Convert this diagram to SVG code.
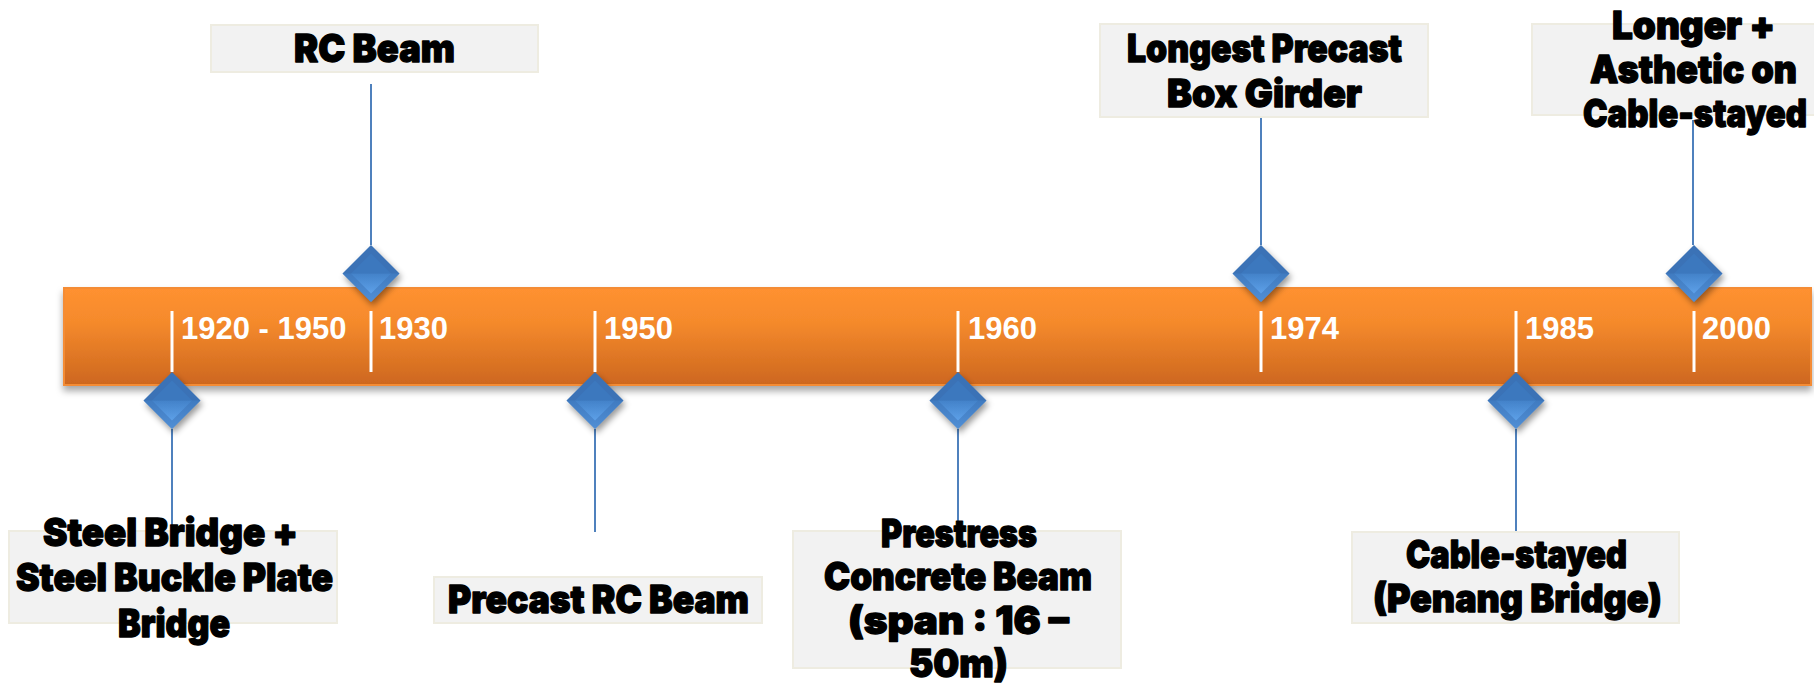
<svg xmlns="http://www.w3.org/2000/svg" width="1814" height="687" viewBox="0 0 1814 687">
  <defs>
    <linearGradient id="barFill" x1="0" y1="0" x2="0" y2="1">
      <stop offset="0" stop-color="#FF9130"/>
      <stop offset="0.35" stop-color="#F58A2C"/>
      <stop offset="1" stop-color="#CD671F"/>
    </linearGradient>
    <linearGradient id="facetLow" x1="0" y1="0" x2="0" y2="1">
      <stop offset="0" stop-color="#4382C9"/>
      <stop offset="1" stop-color="#62A6EE"/>
    </linearGradient>
    <filter id="barShadow" x="-5%" y="-20%" width="110%" height="150%">
      <feDropShadow dx="0" dy="5" stdDeviation="3.5" flood-color="#000" flood-opacity="0.35"/>
    </filter>
    <filter id="gemShadow" x="-40%" y="-40%" width="180%" height="180%">
      <feDropShadow dx="2" dy="4" stdDeviation="3" flood-color="#000" flood-opacity="0.4"/>
    </filter>
    <!-- bevelled diamond marker, centred on 0,0 -->
    <g id="gem">
      <polygon points="0,-28.5 28.5,0 0,28.5 -28.5,0" fill="#3A72B6" filter="url(#gemShadow)"/>
      <polygon points="-20,0 20,0 0,20" fill="url(#facetLow)"/>
      <polygon points="-20,0 0,-20 20,0" fill="#3C78BE"/>
      <polygon points="-20,0 20,0 28.5,0 0,28.5 -28.5,0" fill="url(#facetLow)" opacity="0.55"/>
    </g>
  </defs>
  <style>
    .box { fill: #F2F2F2; stroke: #EEECE1; stroke-width: 2; }
    .lbl { font-family: Inter, "DejaVu Sans", sans-serif; font-weight: 900; font-size: 38px; fill: #000; stroke: #000; stroke-width: 1.3; stroke-linejoin: round; }
    .yr { font-family: "Liberation Sans", Arial, sans-serif; font-weight: bold; font-size: 31px; fill: #FFFFFF; }
    .tick { stroke: #FFFFFF; stroke-width: 3; }
    .link { stroke: #4F81BD; stroke-width: 2; fill: none; }
  </style>

  <rect width="1814" height="687" fill="#FFFFFF"/>

  <!-- timeline bar -->
  <g id="timeline">
    <rect x="64" y="288" width="1747" height="97" fill="url(#barFill)" stroke="#F48C34" stroke-width="2" filter="url(#barShadow)"/>
    <line class="tick" x1="172" y1="311" x2="172" y2="372"/>
    <line class="tick" x1="371" y1="311" x2="371" y2="372"/>
    <line class="tick" x1="595" y1="311" x2="595" y2="372"/>
    <line class="tick" x1="958" y1="311" x2="958" y2="372"/>
    <line class="tick" x1="1261" y1="311" x2="1261" y2="372"/>
    <line class="tick" x1="1516" y1="311" x2="1516" y2="372"/>
    <line class="tick" x1="1694" y1="311" x2="1694" y2="372"/>
    <text class="yr" x="181" y="339">1920 - 1950</text>
    <text class="yr" x="379" y="339">1930</text>
    <text class="yr" x="604" y="339">1950</text>
    <text class="yr" x="968" y="339">1960</text>
    <text class="yr" x="1270" y="339">1974</text>
    <text class="yr" x="1525" y="339">1985</text>
    <text class="yr" x="1702" y="339">2000</text>
  </g>

  <!-- connectors -->
  <g id="connectors">
    <line class="link" x1="172" y1="429" x2="172" y2="531"/>
    <line class="link" x1="371" y1="84" x2="371" y2="245"/>
    <line class="link" x1="595" y1="429" x2="595" y2="532"/>
    <line class="link" x1="958" y1="429" x2="958" y2="531"/>
    <line class="link" x1="1261" y1="117" x2="1261" y2="245"/>
    <line class="link" x1="1516" y1="429" x2="1516" y2="532"/>
    <line class="link" x1="1693" y1="120" x2="1693" y2="245"/>
  </g>

  <!-- markers on the bar -->
  <g id="markers">
    <use href="#gem" x="172" y="400.5"/>
    <use href="#gem" x="371" y="273.5"/>
    <use href="#gem" x="595" y="400.5"/>
    <use href="#gem" x="958" y="400.5"/>
    <use href="#gem" x="1261" y="273.5"/>
    <use href="#gem" x="1516" y="400.5"/>
    <use href="#gem" x="1694" y="273.5"/>
  </g>

  <!-- event labels -->
  <g id="node-steel">
    <rect class="box" x="9" y="531" width="328" height="92"/>
    <text class="lbl" x="43" y="546" textLength="255" lengthAdjust="spacingAndGlyphs">Steel Bridge +</text>
    <text class="lbl" x="16" y="591" textLength="317" lengthAdjust="spacingAndGlyphs">Steel Buckle Plate</text>
    <text class="lbl" x="118" y="637" textLength="112" lengthAdjust="spacingAndGlyphs">Bridge</text>
  </g>
  <g id="node-rc-beam">
    <rect class="box" x="211" y="25" width="327" height="47"/>
    <text class="lbl" x="294" y="62" textLength="161" lengthAdjust="spacingAndGlyphs">RC Beam</text>
  </g>
  <g id="node-precast-rc">
    <rect class="box" x="434" y="577" width="328" height="46"/>
    <text class="lbl" x="448" y="613" textLength="301" lengthAdjust="spacingAndGlyphs">Precast RC Beam</text>
  </g>
  <g id="node-prestress">
    <rect class="box" x="793" y="531" width="328" height="137"/>
    <text class="lbl" x="881" y="547" textLength="156" lengthAdjust="spacingAndGlyphs">Prestress</text>
    <text class="lbl" x="824" y="590" textLength="268" lengthAdjust="spacingAndGlyphs">Concrete Beam</text>
    <text class="lbl" x="848" y="634" textLength="221" lengthAdjust="spacingAndGlyphs">(span : 16 –</text>
    <text class="lbl" x="909" y="677" textLength="99" lengthAdjust="spacingAndGlyphs">50m)</text>
  </g>
  <g id="node-box-girder">
    <rect class="box" x="1100" y="24" width="328" height="93"/>
    <text class="lbl" x="1127" y="62" textLength="275" lengthAdjust="spacingAndGlyphs">Longest Precast</text>
    <text class="lbl" x="1167" y="107" textLength="195" lengthAdjust="spacingAndGlyphs">Box Girder</text>
  </g>
  <g id="node-penang">
    <rect class="box" x="1352" y="532" width="327" height="91"/>
    <text class="lbl" x="1406" y="568" textLength="221" lengthAdjust="spacingAndGlyphs">Cable-stayed</text>
    <text class="lbl" x="1373" y="612" textLength="289" lengthAdjust="spacingAndGlyphs">(Penang Bridge)</text>
  </g>
  <g id="node-cable-stayed">
    <rect class="box" x="1532" y="24" width="328" height="91"/>
    <text class="lbl" x="1612" y="39" textLength="163" lengthAdjust="spacingAndGlyphs">Longer +</text>
    <text class="lbl" x="1590" y="83" textLength="207" lengthAdjust="spacingAndGlyphs">Asthetic on</text>
    <text class="lbl" x="1583" y="127" textLength="224" lengthAdjust="spacingAndGlyphs">Cable-stayed</text>
  </g>
</svg>
